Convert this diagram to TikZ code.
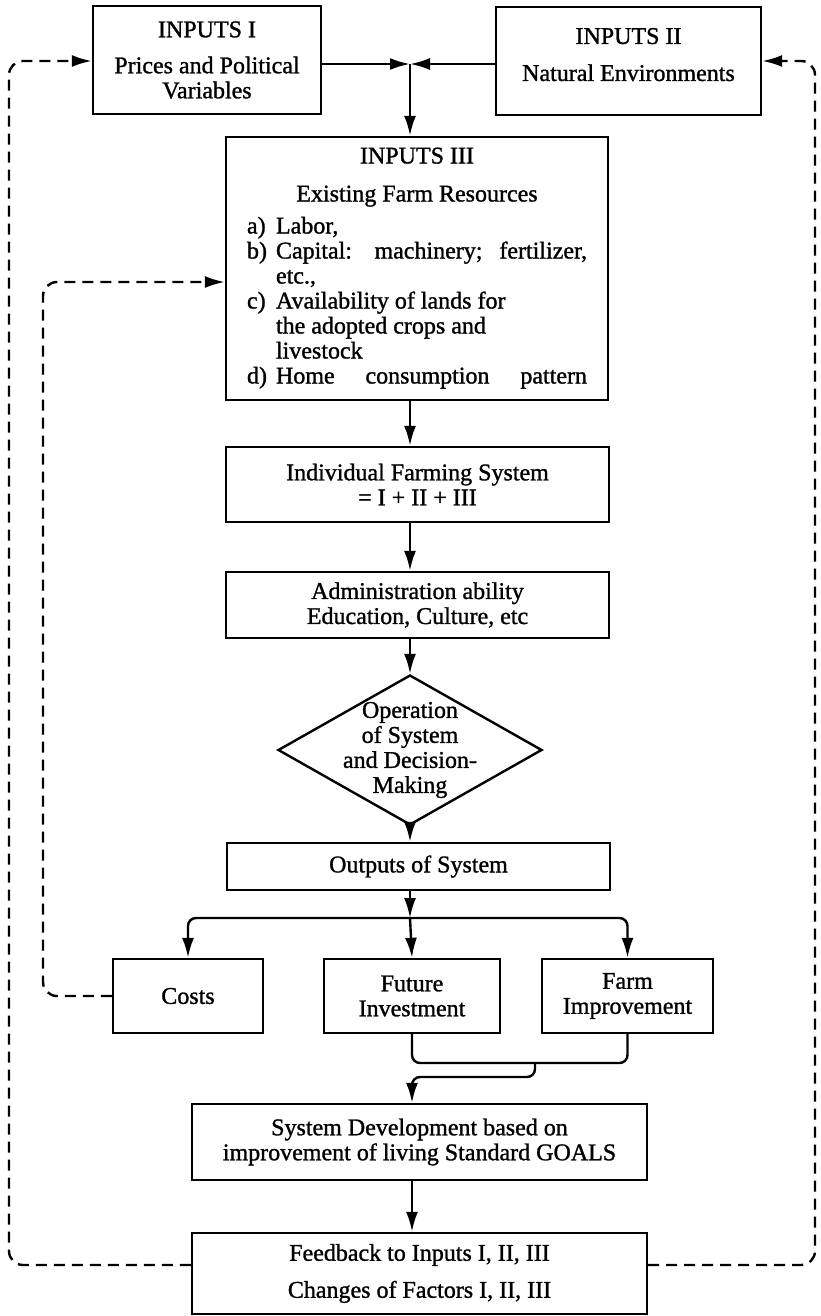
\documentclass[tikz,border=0pt]{standalone}
\usepackage{fontspec}
\setmainfont{Liberation Serif}[FakeBold=1.2]
\usetikzlibrary{shapes.geometric,arrows.meta}
\begin{document}
\begin{tikzpicture}[x=1pt,y=-1pt,line width=2.4pt,font=\fontsize{24}{25}\selectfont,
	box/.style={draw,rectangle,align=center,inner sep=0pt},
	arr/.style={-{Latex[length=20pt,width=12pt]}},
	dsh/.style={arr,dash pattern=on 11pt off 7pt,rounded corners=14pt}]
		\useasboundingbox (0,0) rectangle (821,1316);
		\node[box,minimum width=228,minimum height=108] (in1) at (207,60) {INPUTS I\\[11pt]Prices and Political\\Variables};
		\node[box,minimum width=265,minimum height=108,text depth=13pt] (in2) at (628.5,61) {INPUTS II\\[12pt]Natural Environments};
		\node[box,minimum width=382,minimum height=263] (in3) at (417,268.5) {%
			\begin{tabular}{@{}l@{\hspace{9pt}}l@{}}
				\multicolumn{2}{c}{INPUTS III}\\[13pt]
				\multicolumn{2}{c}{Existing Farm Resources}\\[7pt]
				a) & Labor,\\
				b) & \makebox[311pt][s]{Capital: machinery; fertilizer,}\\
				   & etc.,\\
				c) & Availability of lands for\\
				   & the adopted crops and\\
				   & livestock\\
				d) & \makebox[311pt][s]{Home consumption pattern}
			\end{tabular}};
		\node[box,minimum width=383,minimum height=75] (ifs) at (417.5,484.5) {Individual Farming System\\= I + II + III};
		\node[box,minimum width=383,minimum height=66] (adm) at (417.5,605) {Administration ability\\Education, Culture, etc};
		\node[draw,diamond,minimum width=264,minimum height=150,inner sep=0pt] (dia) at (410,750) {};
		\node[align=center,inner sep=0pt] (diatxt) at (dia.center) {Operation\\of System\\and Decision-\\Making};
		\node[box,minimum width=383,minimum height=47] (out) at (418.5,866.5) {Outputs of System};
		\node[box,minimum width=150,minimum height=74] (costs) at (188,996) {Costs};
		\node[box,minimum width=176,minimum height=74] (fut) at (412,996) {Future\\Investment};
		\node[box,minimum width=171,minimum height=74] (farm) at (627.5,996) {Farm\\Improvement};
		\node[box,minimum width=455,minimum height=76] (sdev) at (419.5,1142) {System Development based on\\improvement of living Standard GOALS};
		\node[box,minimum width=455,minimum height=81] (fb) at (419.5,1273.5) {Feedback to Inputs I, II, III\\[12pt]Changes of Factors I, II, III};
		\coordinate (jn) at (410,64);
		\coordinate (br) at (410,918);
		\coordinate (mg) at (535,1063);
		\draw[arr] (in1.east |- jn) -- (jn);
		\draw[arr] (in2.west |- jn) -- (jn);
		\draw[arr] (jn) -- (jn |- in3.north);
		\draw[arr] (jn |- in3.south) -- (jn |- ifs.north);
		\draw[arr] (jn |- ifs.south) -- (jn |- adm.north);
		\draw[arr] (jn |- adm.south) -- (dia.north);
		\draw[arr] (dia.south) -- (jn |- out.north);
		\draw[arr] (jn |- out.south) -- (br);
		\draw[arr,rounded corners=8pt] (br) -| (costs.north);
		\draw[arr,rounded corners=8pt] (br) -| (farm.north);
		\draw[arr] (br) -- (fut.north);
		\draw[rounded corners=8pt] (fut.south) |- (mg) -| (farm.south);
		\draw[arr,rounded corners=8pt] (mg) -- ++(0,14) -| (sdev.north -| fut.south);
		\draw[arr] (sdev.south -| fut.south) -- (fb.north -| fut.south);
		\coordinate (cL) at (43,282);
		\draw[dsh] (costs.west) -| (cL) -- (cL -| in3.west);
		\coordinate (oL) at (9,1265);
		\coordinate (oT) at (9,61);
		\draw[dsh] (fb.west |- oL) -- (oL) -- (oT) -- (oT -| in1.west);
		\coordinate (oR) at (815,1265);
		\coordinate (oRT) at (815,61);
		\draw[dsh] (fb.east |- oR) -- (oR) -- (oRT) -- (oRT -| in2.east);
\end{tikzpicture}
\end{document}
